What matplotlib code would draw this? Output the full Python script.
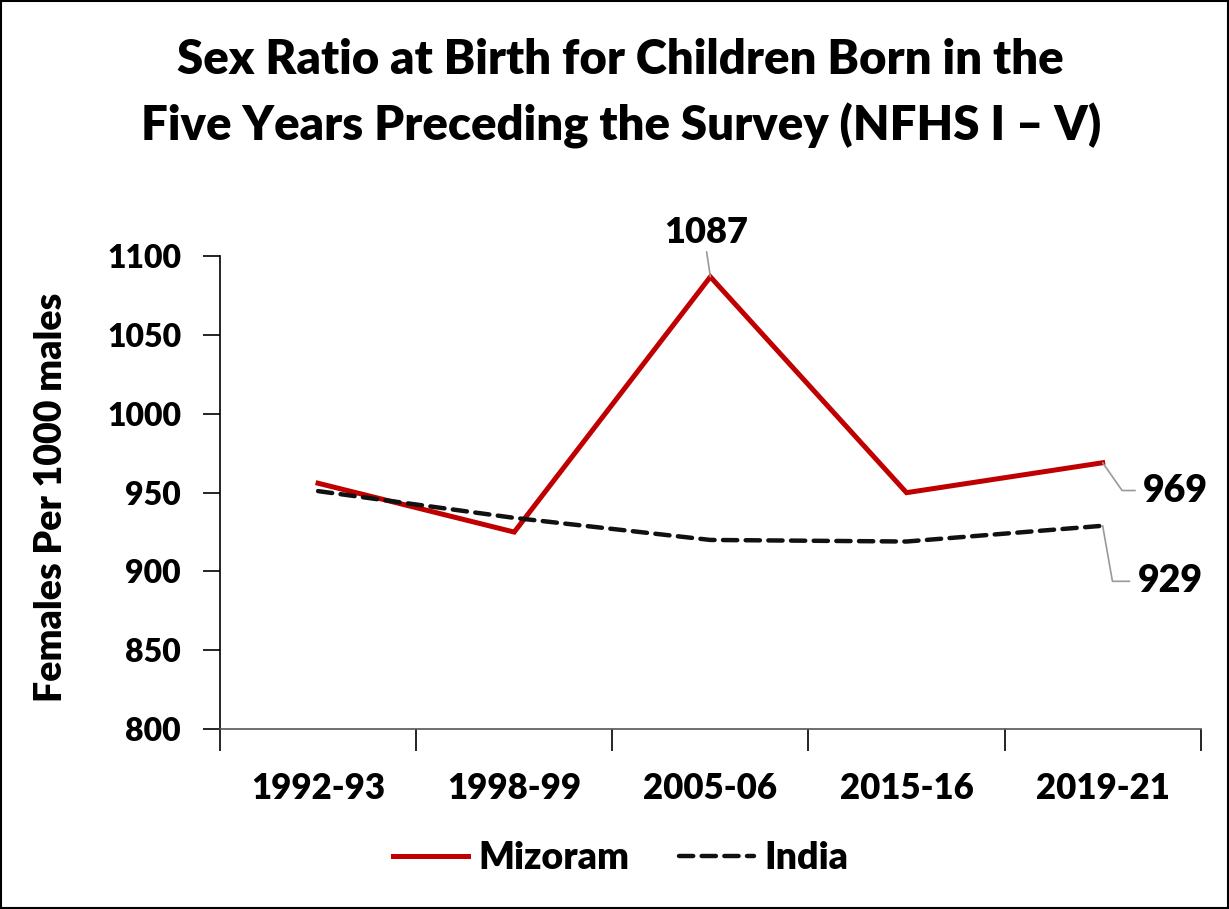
import matplotlib.pyplot as plt
from matplotlib.patches import Rectangle

plt.rcParams['font.family'] = ['Lato', 'DejaVu Sans']
plt.rcParams['font.weight'] = 'heavy'

# NFHS rounds and sex ratio at birth (females per 1000 males)
rounds = ['1992-93', '1998-99', '2005-06', '2015-16', '2019-21']
mizoram = [956, 925, 1087, 950, 969]
india = [951, 934, 920, 919, 929]

fig = plt.figure(figsize=(12.29, 9.09), dpi=100)
ax = fig.add_axes([0.179, 0.198, 0.798, 0.520])

x = list(range(len(rounds)))
ax.plot(x, mizoram, color='#C00000', lw=3.6, solid_joinstyle='miter', label='Mizoram')
ax.plot(x, india, color='#111111', lw=3.2, dashes=(3.2, 1.9), dash_capstyle='round',
        label='India')

ax.set_ylim(800, 1100)
ax.set_yticks(range(800, 1101, 50))
ax.set_xlim(-0.5, len(rounds) - 0.5)
ax.set_xticks(x)
ax.set_xticklabels(rounds)
ax.set_xticks([i - 0.5 for i in range(len(rounds) + 1)], minor=True)
ax.tick_params(axis='x', which='major', length=0, pad=31, labelsize=25)
ax.tick_params(axis='x', which='minor', length=16, width=1.2, direction='out')
ax.tick_params(axis='y', length=12, width=1.2, labelsize=23, pad=16)
for lab in ax.get_xticklabels() + ax.get_yticklabels():
    lab.set_fontweight('heavy')

for s in ['top', 'right']:
    ax.spines[s].set_visible(False)
ax.spines['left'].set_linewidth(1.2)
ax.spines['bottom'].set_linewidth(1.2)
ax.spines['bottom'].set_color('#555555')

ax.set_ylabel('Females Per 1000 males', fontsize=27, fontweight='heavy')
ax.yaxis.set_label_coords(-0.155, 0.49)

# data labels with leader lines
lead = dict(arrowstyle='-', color='#999999', lw=1.2, shrinkA=0, shrinkB=0)
ax.annotate(str(mizoram[2]), xy=(2, mizoram[2]), xytext=(-3, 20), textcoords='offset points',
            ha='center', va='bottom', fontsize=26, fontweight='heavy',
            arrowprops=dict(lead, relpos=(0.5, 0)))
ax.annotate(str(mizoram[4]), xy=(4, mizoram[4]), xytext=(29, -20), textcoords='offset points',
            ha='left', va='center', fontsize=27, fontweight='heavy',
            arrowprops=dict(lead, connectionstyle='angle,angleA=0,angleB=-55,rad=0',
                            relpos=(-0.12, 0.5)))
ax.annotate(str(india[4]), xy=(4, india[4]), xytext=(25, -40), textcoords='offset points',
            ha='left', va='center', fontsize=27, fontweight='heavy',
            arrowprops=dict(lead, connectionstyle='angle,angleA=0,angleB=-80,rad=0',
                            relpos=(-0.12, 0.5)))

fig.text(0.505, 0.934, 'Sex Ratio at Birth for Children Born in the', ha='center', va='center',
         fontsize=34, fontweight='heavy')
fig.text(0.505, 0.862, 'Five Years Preceding the Survey (NFHS I \u2013 V)', ha='center', va='center',
         fontsize=34, fontweight='heavy')

fig.legend(loc='center', bbox_to_anchor=(0.505, 0.056), ncol=2, frameon=False,
           prop={'size': 27, 'weight': 'heavy'}, handlelength=2.0, columnspacing=1.3,
           handletextpad=0.3)

fig.add_artist(Rectangle((0.001, 0.001), 0.998, 0.998, transform=fig.transFigure,
                         fill=False, edgecolor='black', lw=1.5))

fig.savefig('out.png', dpi=100)
